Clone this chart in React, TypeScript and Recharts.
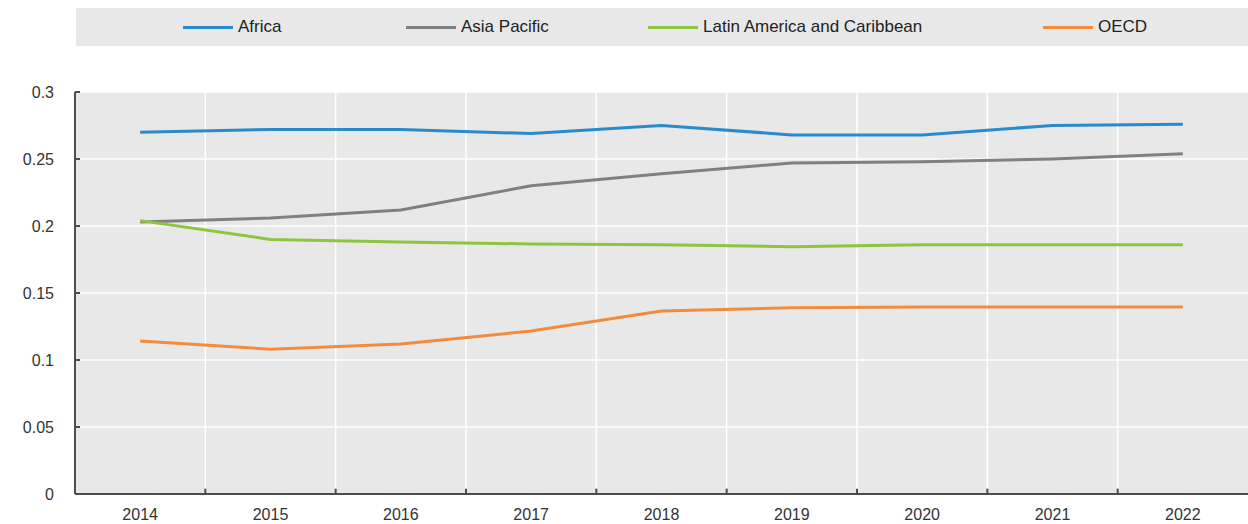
import { LineChart, Line, XAxis, YAxis, CartesianGrid, ReferenceLine, Legend } from "recharts";

const YEARS = ["2014", "2015", "2016", "2017", "2018", "2019", "2020", "2021", "2022"];
const AFRICA = [0.27, 0.272, 0.272, 0.269, 0.275, 0.268, 0.268, 0.275, 0.276];
const ASIA_PACIFIC = [0.203, 0.206, 0.212, 0.23, 0.239, 0.247, 0.248, 0.25, 0.254];
const LATAM = [0.204, 0.19, 0.188, 0.1866, 0.186, 0.1845, 0.186, 0.186, 0.186];
const OECD = [0.1142, 0.108, 0.112, 0.1216, 0.1366, 0.139, 0.1396, 0.1396, 0.1396];
const Y_TICKS = [0, 0.05, 0.1, 0.15, 0.2, 0.25, 0.3];

const SERIES = [
  { key: "africa", name: "Africa", color: "#2a8bcc", values: AFRICA },
  { key: "asia", name: "Asia Pacific", color: "#808080", values: ASIA_PACIFIC },
  { key: "latam", name: "Latin America and Caribbean", color: "#8cc63f", values: LATAM },
  { key: "oecd", name: "OECD", color: "#f28c3c", values: OECD },
];

const FONT = "'Liberation Sans Narrow', 'Arial Narrow', 'Liberation Sans', Arial, sans-serif";
const AXIS = "#4d4d4d";
const PLOT_BG = "#e8e8e8";

// boundaries between year bands, for the white separators and the bottom ticks
const BOUNDS = YEARS.slice(1).map((_, i) => i + 0.5);

const LEGEND_WIDTHS = [223, 242, 395, 120];

function LegendBar() {
  return (
    <div
      style={{
        marginLeft: 76,
        marginTop: 8,
        height: 38,
        background: PLOT_BG,
        display: "flex",
        alignItems: "center",
        paddingLeft: 107,
        fontFamily: FONT,
        fontSize: 17,
        color: "#222",
      }}
    >
      {SERIES.map((s, i) => (
        <div key={s.key} style={{ width: LEGEND_WIDTHS[i], display: "flex", alignItems: "center" }}>
          <span style={{ display: "inline-block", width: 50, height: 3, background: s.color, marginRight: 5 }} />
          <span>{s.name}</span>
        </div>
      ))}
    </div>
  );
}

export default function App() {
  const data = YEARS.map((y, i) => {
    const row: Record<string, number | string> = { i, year: y };
    SERIES.forEach((s) => (row[s.key] = s.values[i]));
    return row;
  });

  return (
    <div style={{ position: "absolute", left: 0, top: 0, width: 1248, height: 524, background: "#fff" }}>
      <LineChart width={1248} height={524} data={data} margin={{ top: 46, right: 0, left: 0, bottom: 0 }}>
        <Legend
          verticalAlign="top"
          height={46}
          content={() => <LegendBar />}
          wrapperStyle={{ top: 0, left: 0, width: 1248 }}
        />
        <CartesianGrid vertical={false} stroke="#ffffff" strokeWidth={1.5} fill={PLOT_BG} horizontalValues={Y_TICKS} />
        {BOUNDS.map((b) => (
          <ReferenceLine key={"g" + b} x={b} stroke="#ffffff" strokeWidth={1.5} />
        ))}
        {BOUNDS.map((b) => (
          <ReferenceLine
            key={"t" + b}
            segment={[{ x: b, y: 0 }, { x: b, y: 0.004 }]}
            stroke={AXIS}
            strokeWidth={2}
          />
        ))}
        <XAxis
          dataKey="i"
          type="number"
          domain={[-0.5, 8.5]}
          ticks={YEARS.map((_, i) => i)}
          tickFormatter={(v: number) => YEARS[v]}
          tickLine={false}
          axisLine={{ stroke: AXIS, strokeWidth: 2 }}
          height={30}
          tickMargin={9}
          tick={{ fill: "#333", fontSize: 16, fontFamily: FONT }}
        />
        <YAxis
          domain={[0, 0.3]}
          ticks={Y_TICKS}
          width={75}
          tickSize={-5}
          tickMargin={26}
          tickLine={{ stroke: AXIS, strokeWidth: 2 }}
          axisLine={{ stroke: AXIS, strokeWidth: 2 }}
          tick={{ fill: "#333", fontSize: 16, fontFamily: FONT }}
        />
        {SERIES.map((s) => (
          <Line
            key={s.key}
            dataKey={s.key}
            name={s.name}
            type="linear"
            stroke={s.color}
            strokeWidth={3}
            dot={false}
            isAnimationActive={false}
          />
        ))}
      </LineChart>
    </div>
  );
}
